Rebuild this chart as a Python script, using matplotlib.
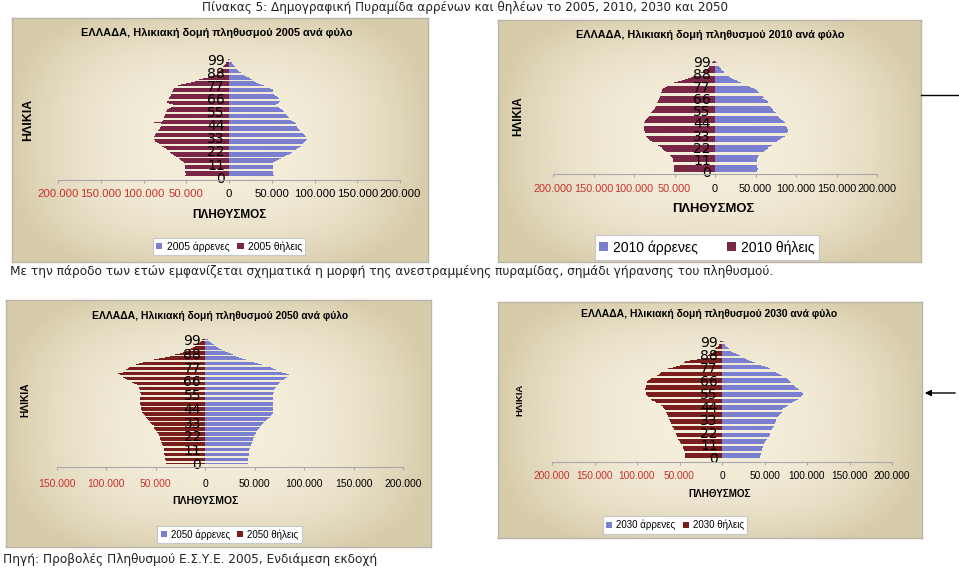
import numpy as np
import matplotlib
matplotlib.use("Agg")
import matplotlib.pyplot as plt
import matplotlib.patheffects as pe
from matplotlib.patches import Rectangle, FancyArrowPatch
from matplotlib.lines import Line2D

# ---------------- data (thousands of persons, single ages 0..99) ----------------
ages = list(range(100))
age_tick_labels = [0, 11, 22, 33, 44, 55, 66, 77, 88, 99]

males_2005 = [53, 53, 52, 52, 52, 52, 51, 51, 51, 51,
              51, 51, 52, 54, 56, 58, 61, 64, 67, 70,
              72, 74, 76, 78, 80, 82, 84, 86, 87, 88,
              89, 90, 91, 91, 90, 89, 88, 86, 85, 83,
              82, 81, 80, 79, 86, 78, 77, 75, 73, 72,
              70, 69, 68, 67, 66, 64, 63, 62, 60, 58,
              56, 55, 57, 59, 60, 59, 58, 57, 56, 54,
              53, 52, 52, 51, 51, 48, 45, 41, 38, 34,
              31, 29, 27, 25, 23, 20, 18, 16, 14, 12,
              10, 9, 8, 7, 6, 5, 4, 3, 2, 1]
females_2005 = [51, 51, 50, 50, 51, 51, 51, 51, 52, 52,
                52, 52, 53, 54, 56, 57, 59, 62, 64, 66,
                68, 69, 70, 72, 74, 76, 78, 80, 82, 84,
                86, 87, 88, 88, 88, 87, 86, 85, 84, 83,
                82, 81, 81, 80, 80, 79, 88, 78, 77, 77,
                76, 76, 75, 75, 74, 74, 73, 72, 70, 68,
                64, 66, 70, 72, 72, 71, 70, 70, 69, 68,
                68, 67, 67, 66, 66, 64, 62, 60, 56, 50,
                45, 40, 35, 30, 25, 22, 19, 16, 14, 12,
                10, 9, 8, 7, 6, 5, 4, 3, 2, 1]

males_2010 = [52, 52, 53, 53, 52, 52, 52, 52, 52, 52,
              52, 52, 52, 53, 53, 54, 56, 58, 60, 62,
              64, 65, 66, 68, 70, 72, 74, 76, 78, 80,
              82, 84, 86, 88, 88, 89, 90, 90, 90, 89,
              89, 88, 92, 87, 86, 85, 84, 82, 80, 79,
              78, 77, 76, 75, 73, 72, 71, 70, 69, 68,
              68, 67, 66, 65, 64, 62, 58, 60, 59, 56,
              54, 54, 53, 52, 50, 48, 45, 42, 39, 35,
              32, 29, 27, 24, 21, 19, 17, 15, 13, 11,
              11, 9, 8, 7, 6, 5, 4, 3, 2, 1]
females_2010 = [51, 51, 51, 51, 51, 51, 51, 51, 52, 52,
                52, 52, 52, 53, 54, 55, 57, 59, 61, 63,
                64, 65, 66, 68, 70, 73, 75, 78, 80, 82,
                83, 84, 85, 86, 86, 87, 87, 88, 88, 88,
                88, 88, 87, 87, 88, 87, 86, 85, 84, 83,
                82, 81, 80, 79, 78, 76, 75, 74, 74, 73,
                73, 72, 71, 70, 70, 69, 69, 68, 68, 67,
                67, 67, 66, 66, 65, 64, 62, 59, 57, 54,
                51, 46, 41, 37, 33, 30, 27, 24, 20, 17,
                15, 13, 11, 9, 8, 7, 6, 5, 4, 3]

males_2030 = [45, 45, 45, 46, 46, 46, 47, 47, 47, 48,
              48, 48, 49, 50, 51, 52, 53, 54, 55, 56,
              56, 57, 57, 58, 59, 59, 60, 61, 61, 62,
              62, 63, 63, 64, 65, 66, 67, 68, 69, 70,
              70, 71, 72, 74, 76, 78, 80, 82, 85, 87,
              89, 91, 93, 94, 95, 95, 94, 93, 91, 89,
              87, 86, 85, 84, 81, 80, 79, 78, 76, 74,
              70, 68, 66, 64, 62, 60, 57, 54, 50, 46,
              42, 39, 35, 32, 29, 27, 24, 21, 19, 16,
              13, 11, 10, 8, 7, 5, 4, 3, 2, 2]
females_2030 = [43, 43, 43, 44, 44, 44, 45, 45, 46, 46,
                46, 47, 48, 49, 50, 51, 52, 52, 53, 53,
                54, 54, 54, 55, 56, 57, 58, 59, 59, 60,
                60, 61, 61, 62, 62, 63, 64, 65, 65, 66,
                66, 67, 68, 69, 70, 72, 75, 78, 79, 82,
                84, 86, 87, 88, 89, 90, 90, 91, 91, 91,
                90, 90, 90, 89, 88, 88, 87, 85, 83, 85,
                76, 74, 73, 72, 70, 66, 63, 58, 54, 50,
                48, 45, 43, 38, 30, 25, 22, 17, 15, 13,
                11, 10, 10, 8, 7, 5, 4, 3, 2, 2]

males_2050 = [43, 43, 43, 43, 43, 44, 44, 44, 44, 44,
              44, 44, 45, 45, 46, 46, 47, 47, 48, 48,
              48, 49, 49, 50, 51, 51, 52, 53, 54, 55,
              56, 57, 58, 59, 61, 62, 63, 65, 66, 67,
              68, 68, 69, 69, 69, 69, 69, 69, 69, 69,
              69, 69, 68, 68, 69, 69, 69, 70, 70, 70,
              71, 72, 73, 74, 75, 76, 79, 80, 81, 83,
              83, 85, 82, 78, 75, 72, 69, 66, 61, 57,
              53, 49, 45, 41, 37, 34, 31, 28, 26, 23,
              20, 17, 14, 13, 11, 9, 7, 6, 4, 3]
females_2050 = [40, 40, 40, 41, 41, 41, 41, 42, 42, 42,
                42, 42, 42, 43, 43, 44, 44, 45, 45, 46,
                46, 46, 47, 47, 48, 49, 50, 51, 52, 52,
                52, 54, 55, 56, 57, 58, 59, 60, 61, 62,
                63, 64, 64, 65, 65, 65, 65, 66, 66, 66,
                66, 66, 66, 66, 65, 65, 65, 66, 66, 66,
                67, 67, 68, 69, 72, 74, 77, 79, 81, 83,
                84, 86, 88, 83, 82, 80, 78, 77, 74, 70,
                67, 63, 58, 52, 47, 41, 36, 31, 26, 23,
                20, 17, 14, 12, 10, 8, 7, 5, 4, 3]

x_ticks_200 = [-200000, -150000, -100000, -50000, 0, 50000, 100000, 150000, 200000]
x_ticks_150 = [-150000, -100000, -50000, 0, 50000, 100000, 150000, 200000]

main_title = "Πίνακας 5: Δημογραφική Πυραμίδα αρρένων και θηλέων το 2005, 2010, 2030 και 2050"
mid_text = ("Με την πάροδο των ετών εμφανίζεται σχηματικά η μορφή της ανεστραμμένης "
            "πυραμίδας, σημάδι γήρανσης του πληθυσμού.")
source_text = "Πηγή: Προβολές Πληθυσμού Ε.Σ.Υ.Ε. 2005, Ενδιάμεση εκδοχή"
chart_title = "ΕΛΛΑΔΑ, Ηλικιακή δομή πληθυσμού {} ανά φύλο"
y_title = "ΗΛΙΚΙΑ"
x_title = "ΠΛΗΘΥΣΜΟΣ"

# ---------------- styling / layout ----------------
W, H = 959, 569
fig = plt.figure(figsize=(W / 100, H / 100), dpi=100)
CHART_FONT = ["Liberation Sans", "DejaVu Sans"]
BODY_FONT = ["DejaVu Sans"]
MALE = "#7B7FCF"
FEM_A = "#7A2646"
FEM_B = "#7A1D1D"
NEG_RED = "#C8322D"


def rect(x0, y0, x1, y1):
    return [x0 / W, 1 - y1 / H, (x1 - x0) / W, (y1 - y0) / H]


def fxy(x, y):
    return (x / W, 1 - y / H)


def fmt(v):
    return f"{abs(v):,}".replace(",", ".")


def background(box):
    ax = fig.add_axes(rect(*box), zorder=0)
    nx, ny = 200, 100
    u = np.linspace(-1, 1, nx)
    v = np.linspace(-1, 1, ny)
    U, V = np.meshgrid(u, v)
    d = np.clip((np.abs(U) ** 3 + (0.9 * np.abs(V)) ** 3) ** (1 / 3), 0, 1)
    t = d ** 2.4
    c0 = np.array([0.962, 0.937, 0.865])
    c1 = np.array([0.845, 0.800, 0.670])
    img = c0[None, None, :] + (c1 - c0)[None, None, :] * t[:, :, None]
    ax.imshow(img, aspect="auto", extent=[0, 1, 0, 1], interpolation="bilinear")
    ax.set_xticks([])
    ax.set_yticks([])
    for s in ax.spines.values():
        s.set_color("#B8B4A8")
        s.set_linewidth(1.0)
    return ax


def panel(p):
    background(p["box"])
    ax = fig.add_axes(rect(*p["axbox"]), zorder=1)
    ax.patch.set_visible(False)
    m = np.array(p["males"]) * 1000
    f = np.array(p["females"]) * 1000
    ax.barh(ages, m, height=0.7, color=MALE, linewidth=0, antialiased=False)
    ax.barh(ages, -f, height=0.7, color=p["fcol"], linewidth=0, antialiased=False)
    ax.set_xlim(p["xticks"][0], p["xticks"][-1])
    ax.set_ylim(*p["ylim"])
    ax.set_xticks(p["xticks"])
    ax.set_xticklabels([fmt(v) for v in p["xticks"]], family=CHART_FONT, fontsize=p["tick_fs"])
    for v, lab in zip(p["xticks"], ax.get_xticklabels()):
        lab.set_color(NEG_RED if v < 0 else "black")
    ax.set_yticks(age_tick_labels)
    ax.set_yticklabels([str(a) for a in age_tick_labels])
    for lab in ax.get_yticklabels():
        lab.set_fontfamily(CHART_FONT)
        lab.set_fontsize(p["age_fs"])
        lab.set_fontweight("bold")
        lab.set_color("white")
        lab.set_path_effects([pe.withStroke(linewidth=0.7, foreground="white")])
    ax.spines["left"].set_position(("data", 0))
    ax.spines["left"].set_visible(False)
    ax.spines["top"].set_visible(False)
    ax.spines["right"].set_visible(False)
    ax.spines["bottom"].set_color("#A8A8A8")
    ax.spines["bottom"].set_linewidth(0.8)
    ax.tick_params(axis="y", length=0, pad=p["age_pad"])
    ax.tick_params(axis="x", length=2.5, width=0.8, color="#A8A8A8", pad=p["tick_pad"])
    fig.text(*fxy(*p["title_xy"]), p["title"], ha="center", va="center",
             family=CHART_FONT, fontsize=p["title_fs"], fontweight="bold")
    fig.text(*fxy(*p["ylab_xy"]), y_title, ha="center", va="center", rotation=90,
             family=CHART_FONT, fontsize=p["ylab_fs"], fontweight="bold")
    fig.text(*fxy(*p["xlab_xy"]), x_title, ha="center", va="center",
             family=CHART_FONT, fontsize=p["xlab_fs"], fontweight="bold")
    handles = [Rectangle((0, 0), 1, 1, fc=MALE, ec="none"),
               Rectangle((0, 0), 1, 1, fc=p["fcol"], ec="none")]
    leg = ax.legend(handles, p["leg_labels"], loc="center",
                    bbox_to_anchor=fxy(*p["leg_xy"]), bbox_transform=fig.transFigure,
                    ncol=2, frameon=True, fancybox=False, framealpha=1,
                    edgecolor="#C8C8C8", facecolor="white",
                    handlelength=0.6, handleheight=0.6, handletextpad=0.4,
                    columnspacing=p["leg_cs"], borderpad=0.35,
                    prop={"family": CHART_FONT, "size": p["leg_fs"]})
    leg.get_frame().set_linewidth(0.8)
    return ax


panels = [
    dict(box=(12, 18, 428, 262), axbox=(58, 58, 400, 180), males=males_2005,
         females=females_2005, fcol=FEM_A, xticks=x_ticks_200, ylim=(-2.5, 100.5),
         tick_fs=8.2, tick_pad=4, age_fs=7.0, age_pad=3,
         title=chart_title.format(2005), title_xy=(217, 33), title_fs=7.9,
         ylab_xy=(28, 120), ylab_fs=8.9, xlab_xy=(229, 215), xlab_fs=8.5,
         leg_xy=(229, 246.5), leg_fs=7.4, leg_cs=0.8,
         leg_labels=["2005 άρρενες", "2005 θήλεις"]),
    dict(box=(498, 20, 921, 262), axbox=(553, 60, 877, 173.5), males=males_2010,
         females=females_2010, fcol=FEM_A, xticks=x_ticks_200, ylim=(-1.5, 100.5),
         tick_fs=7.8, tick_pad=5, age_fs=9.6, age_pad=3,
         title=chart_title.format(2010), title_xy=(710, 35), title_fs=7.8,
         ylab_xy=(518, 116), ylab_fs=8.5, xlab_xy=(713, 209), xlab_fs=9.4,
         leg_xy=(707, 247.5), leg_fs=10.0, leg_cs=2.1,
         leg_labels=["2010 άρρενες", "2010 θήλεις"]),
    dict(box=(6, 300, 431, 547), axbox=(57, 338, 403, 467), males=males_2050,
         females=females_2050, fcol=FEM_B, xticks=x_ticks_150, ylim=(-3, 100.5),
         tick_fs=7.5, tick_pad=6, age_fs=7.0, age_pad=3,
         title=chart_title.format(2050), title_xy=(220, 316), title_fs=7.5,
         ylab_xy=(25, 400), ylab_fs=7.4, xlab_xy=(205, 501), xlab_fs=7.5,
         leg_xy=(229.5, 534.5), leg_fs=7.0, leg_cs=0.8,
         leg_labels=["2050 άρρενες", "2050 θήλεις"]),
    dict(box=(498, 302, 922, 538), axbox=(552, 340, 892, 462), males=males_2030,
         females=females_2030, fcol=FEM_B, xticks=x_ticks_200, ylim=(-3.5, 100.5),
         tick_fs=7.3, tick_pad=4, age_fs=9.0, age_pad=3,
         title=chart_title.format(2030), title_xy=(709, 314), title_fs=7.5,
         ylab_xy=(520, 400), ylab_fs=6.8, xlab_xy=(720, 494), xlab_fs=7.1,
         leg_xy=(675, 525), leg_fs=7.0, leg_cs=0.8,
         leg_labels=["2030 άρρενες", "2030 θήλεις"]),
]

for p in panels:
    panel(p)

fig.text(*fxy(465, 8), main_title, ha="center", va="center", family=BODY_FONT,
         fontsize=8.65, color="#222222")
fig.text(*fxy(10, 272), mid_text, ha="left", va="center", family=BODY_FONT,
         fontsize=8.7, color="#222222")
fig.text(*fxy(3, 560), source_text, ha="left", va="center", family=BODY_FONT,
         fontsize=8.7, color="#222222")

fig.add_artist(Line2D([921 / W, 958 / W], [1 - 95 / H, 1 - 95 / H],
                      transform=fig.transFigure, color="black", lw=1.0))
fig.add_artist(FancyArrowPatch(fxy(958, 393), fxy(922, 393), transform=fig.transFigure,
                               arrowstyle="-|>", mutation_scale=9, color="black", lw=1.0))

fig.savefig("out.png", dpi=100)
